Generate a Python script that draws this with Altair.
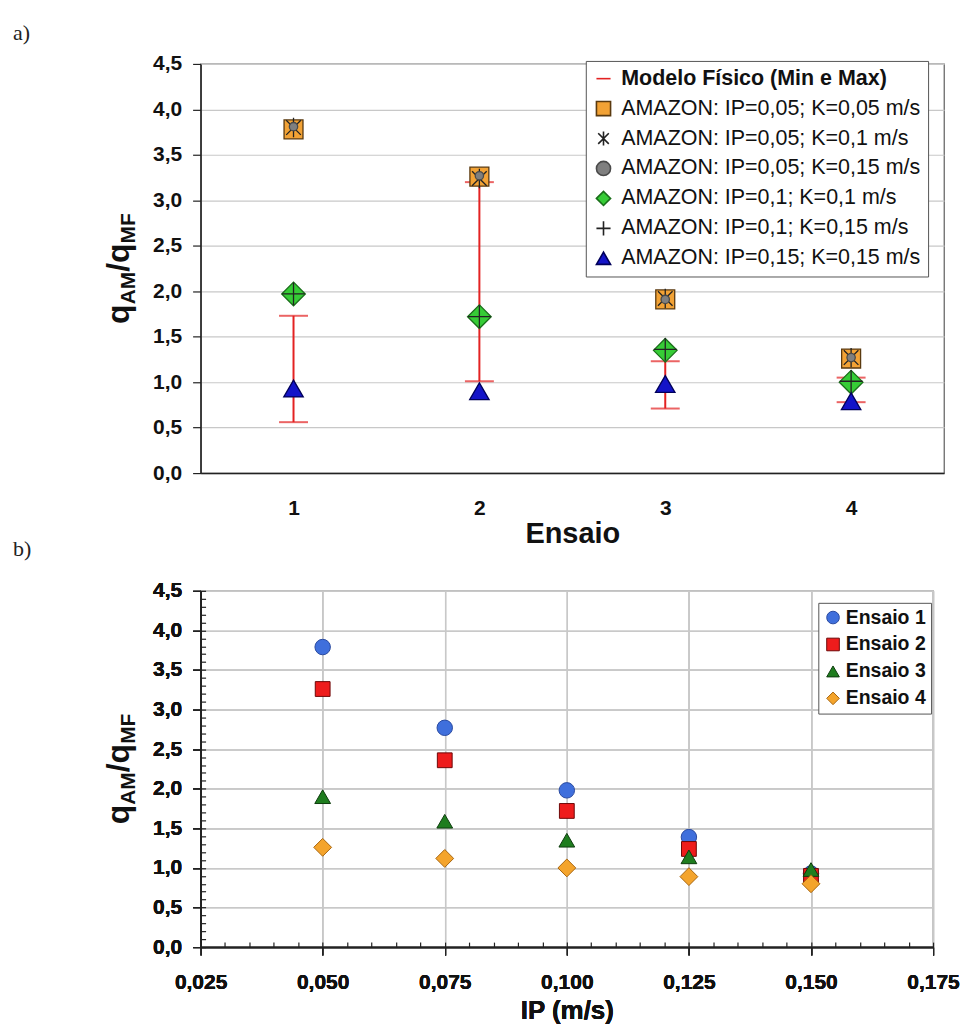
import altair as alt
import pandas as pd

FONT = "Liberation Sans"
SERIF = "Liberation Serif"

# ---------------- data: panel a) ----------------
ensaios = [1, 2, 3, 4]
modelo_name = "Modelo Físico (Min e Max)"
series_names = [
    "AMAZON: IP=0,05; K=0,05 m/s",
    "AMAZON: IP=0,05; K=0,1 m/s",
    "AMAZON: IP=0,05; K=0,15 m/s",
    "AMAZON: IP=0,1; K=0,1 m/s",
    "AMAZON: IP=0,1; K=0,15 m/s",
    "AMAZON: IP=0,15; K=0,15 m/s",
]
ip005_k005 = [3.78, 3.26, 1.91, 1.26]
ip005_k01 = [3.80, 3.24, 1.92, 1.27]
ip005_k015 = [3.81, 3.27, 1.91, 1.27]
ip01_k01 = [1.97, 1.72, 1.35, 1.00]
ip01_k015 = [1.97, 1.72, 1.36, 1.01]
ip015_k015 = [0.93, 0.90, 0.98, 0.79]
mf_min = [0.56, 1.01, 0.71, 0.78]
mf_max = [1.73, 3.20, 1.23, 1.05]

# ---------------- data: panel b) ----------------
ip_values = [0.050, 0.075, 0.100, 0.125, 0.150]
ensaio_names = ["Ensaio 1", "Ensaio 2", "Ensaio 3", "Ensaio 4"]
ensaio1 = [3.79, 2.77, 1.98, 1.39, 0.93]
ensaio2 = [3.26, 2.36, 1.72, 1.24, 0.90]
ensaio3 = [1.90, 1.59, 1.35, 1.14, 0.98]
ensaio4 = [1.26, 1.12, 1.00, 0.89, 0.80]

y_major = [0.0, 0.5, 1.0, 1.5, 2.0, 2.5, 3.0, 3.5, 4.0, 4.5]
x_major_b = [0.025, 0.050, 0.075, 0.100, 0.125, 0.150, 0.175]
x_minor_b = [round(0.025 + 0.005 * i, 3) for i in range(31)]
y_minor_b = [round(0.1 * i, 1) for i in range(46)]

top_rows = []
for name, vals in zip(series_names, [ip005_k005, ip005_k01, ip005_k015, ip01_k01, ip01_k015, ip015_k015]):
    for e, v in zip(ensaios, vals):
        top_rows.append({"ensaio": e, "valor": v, "serie": name})
top_df = pd.DataFrame(top_rows)
err_df = pd.DataFrame({"ensaio": ensaios, "vmin": mf_min, "vmax": mf_max})

bot_rows = []
for name, vals in zip(ensaio_names, [ensaio1, ensaio2, ensaio3, ensaio4]):
    for ip, v in zip(ip_values, vals):
        bot_rows.append({"ip": ip, "valor": v, "ensaio": name})
bot_df = pd.DataFrame(bot_rows)

one = pd.DataFrame({"k": [0]})

RED = "#e32222"
LABEL_EXPR_1 = "replace(format(datum.value, '.1f'), '.', ',')"
LABEL_EXPR_3 = "replace(format(datum.value, '.3f'), '.', ',')"

AX = dict(labelFont=FONT, labelFontSize=21, labelFontWeight="bold", labelColor="#111",
          titleFont=FONT, titleFontWeight="bold", titleColor="#111",
          domainColor="#222", domainWidth=1.5, tickColor="#222", tickWidth=1.2,
          gridColor="#c8c8c8", gridWidth=1.2, labelFlush=False, labelOverlap=False)

# ---------------- panel a) ----------------
TW, TH = 745, 410
x_top_scale = alt.Scale(domain=[0.5, 4.5], nice=False, zero=False)
y_scale = alt.Scale(domain=[0, 4.5], nice=False, zero=False)
x_top_axis = alt.Axis(orient="bottom", values=ensaios, format="d", title="Ensaio", grid=False, ticks=False,
                      tickSize=0, labelPadding=24, titlePadding=2, titleFontSize=29, **AX)
y_top_axis = alt.Axis(orient="left", values=y_major, labelExpr=LABEL_EXPR_1, title=None, grid=True, tickSize=8,
                      labelPadding=11, **AX)

domain_top = [modelo_name] + series_names
shapes_top = ["stroke", "square", "M-0.75,-0.75L0.75,0.75M-0.75,0.75L0.75,-0.75M0,-1L0,1", "circle",
              "diamond", "M-1,0L1,0M0,-1L0,1", "triangle-up"]
fills_top = [RED, "#f2a235", "transparent", "#7f7f7f", "#36cc36", "transparent", "#1414c8"]
strokes_top = [RED, "#5a3a10", "#222222", "#4a4a4a", "#1a6e1a", "#222222", "#00005a"]
sizes_top = [360, 380, 70, 560, 520, 380]

legend_top = alt.Legend(title=None, orient="none", legendX=386, legendY=-3, fillColor="white",
                        strokeColor="#555", padding=7, labelFont=FONT, labelFontSize=21.5,
                        labelFontWeight=alt.ExprRef(
                            expr="datum.value == '" + modelo_name + "' ? 'bold' : 'normal'"),
                        labelColor="#111", symbolSize=200, symbolStrokeWidth=1.6, rowPadding=7,
                        labelOffset=7, labelLimit=400)

err_rule = alt.Chart(err_df).mark_rule(color=RED, strokeWidth=2).encode(
    x=alt.X("ensaio:Q", scale=x_top_scale, axis=x_top_axis),
    y=alt.Y("vmin:Q", scale=y_scale, axis=y_top_axis),
    y2="vmax:Q",
)
cap_min = alt.Chart(err_df).mark_tick(color=RED, orient="horizontal", size=29, thickness=2).encode(
    x=alt.X("ensaio:Q", scale=x_top_scale, axis=x_top_axis),
    y=alt.Y("vmin:Q", scale=y_scale, axis=y_top_axis),
)
cap_max = alt.Chart(err_df).mark_tick(color=RED, orient="horizontal", size=29, thickness=2).encode(
    x=alt.X("ensaio:Q", scale=x_top_scale, axis=x_top_axis),
    y=alt.Y("vmax:Q", scale=y_scale, axis=y_top_axis),
)

top_point_layers = []
for name, sz in zip(series_names, sizes_top):
    top_point_layers.append(
        alt.Chart(top_df).transform_filter(alt.datum.serie == name).mark_point(
            size=sz, opacity=1, fillOpacity=1, strokeWidth=1.3).encode(
            x=alt.X("ensaio:Q", scale=x_top_scale, axis=x_top_axis),
            y=alt.Y("valor:Q", scale=y_scale, axis=y_top_axis),
            shape=alt.Shape("serie:N", scale=alt.Scale(domain=domain_top, range=shapes_top), legend=legend_top),
            fill=alt.Fill("serie:N", scale=alt.Scale(domain=domain_top, range=fills_top), legend=legend_top),
            stroke=alt.Stroke("serie:N", scale=alt.Scale(domain=domain_top, range=strokes_top), legend=legend_top),
        )
    )


def y_title(center_y, x_base):
    pieces = [("q", 32, 0, 0.611), ("AM", 21, 6, 1.555), ("/q", 32, 0, 0.889), ("MF", 21, 6, 1.444)]
    total = sum(fs * w for _, fs, _, w in pieces)
    y = center_y + total / 2
    layers = []
    for txt, fs, dx, w in pieces:
        layers.append(
            alt.Chart(one).mark_text(text=txt, angle=270, align="left", baseline="alphabetic", font=FONT,
                                     fontSize=fs, fontWeight="bold", color="#111").encode(
                x=alt.value(x_base + dx), y=alt.value(y))
        )
        y -= fs * w
    return layers


label_a = alt.Chart(one).mark_text(text="a)", align="left", baseline="middle", font=SERIF, fontSize=22,
                                   color="#222").encode(x=alt.value(-188), y=alt.value(-31))
label_b = alt.Chart(one).mark_text(text="b)", align="left", baseline="middle", font=SERIF, fontSize=22,
                                   color="#222").encode(x=alt.value(-188), y=alt.value(486))

top = alt.layer(err_rule, cap_min, cap_max, *top_point_layers, *y_title(TH / 2, -72), label_a,
                label_b).properties(width=TW, height=TH)

# ---------------- panel b) ----------------
BW, BH = 734, 357
x_bot_scale = alt.Scale(domain=[0.025, 0.175], nice=False, zero=False)
x_bot_axis = alt.Axis(orient="bottom", values=x_major_b, labelExpr=LABEL_EXPR_3, title="IP (m/s)", grid=True,
                      tickSize=8, labelPadding=16, titlePadding=6, titleFontSize=26, **AX)
y_bot_axis = alt.Axis(orient="left", values=y_major, labelExpr=LABEL_EXPR_1, title=None, grid=True, tickSize=8,
                      labelPadding=11, **AX)

legend_bot = alt.Legend(title=None, orient="none", legendX=619, legendY=12, fillColor="white",
                        strokeColor="#555", padding=5, labelFont=FONT, labelFontSize=19.5,
                        labelFontWeight="bold", labelColor="#111", symbolSize=160, symbolStrokeWidth=1,
                        rowPadding=6, labelOffset=3)
bot_shapes = ["circle", "square", "triangle-up", "diamond"]
bot_fills = ["#3f6fdc", "#ee1c1c", "#1f7d1f", "#f4a42c"]
bot_strokes = ["#2a4aa0", "#6e0808", "#0e3c0e", "#a8650f"]
bot_sizes = [240, 220, 250, 320]

bot_point_layers = []
for name, sz in zip(ensaio_names, bot_sizes):
    bot_point_layers.append(
        alt.Chart(bot_df).transform_filter(alt.datum.ensaio == name).mark_point(
            size=sz, opacity=1, fillOpacity=1, strokeWidth=1).encode(
            x=alt.X("ip:Q", scale=x_bot_scale, axis=x_bot_axis),
            y=alt.Y("valor:Q", scale=y_scale, axis=y_bot_axis),
            shape=alt.Shape("ensaio:N", scale=alt.Scale(domain=ensaio_names, range=bot_shapes), legend=legend_bot),
            fill=alt.Fill("ensaio:N", scale=alt.Scale(domain=ensaio_names, range=bot_fills), legend=legend_bot),
            stroke=alt.Stroke("ensaio:N", scale=alt.Scale(domain=ensaio_names, range=bot_strokes), legend=legend_bot),
        )
    )
minor = alt.Chart(bot_df).mark_point(opacity=0).encode(
    x=alt.X("ip:Q", scale=x_bot_scale,
            axis=alt.Axis(orient="bottom", values=x_minor_b, labels=False, domain=False, grid=False,
                          tickSize=5, offset=-5, title=None, tickColor="#222", tickWidth=1.2)),
    y=alt.Y("valor:Q", scale=y_scale,
            axis=alt.Axis(orient="left", values=y_minor_b, labels=False, domain=False, grid=False,
                          tickSize=5, offset=-5, title=None, tickColor="#222", tickWidth=1.2)),
)

bottom = alt.layer(*bot_point_layers, minor, *y_title(BH / 2, -72)).resolve_axis(
    x="independent", y="independent").properties(width=BW, height=BH)

chart = alt.vconcat(top, bottom, spacing=18).resolve_scale(
    shape="independent", fill="independent", stroke="independent",
    x="independent", y="independent",
).properties(
    padding={"left": 12, "top": 20, "right": 8, "bottom": 4},
    background="white",
).configure_view(stroke="#6a6a6a", strokeWidth=1.3)

chart.save("out.html", embed_options={"renderer": "svg", "actions": False})
